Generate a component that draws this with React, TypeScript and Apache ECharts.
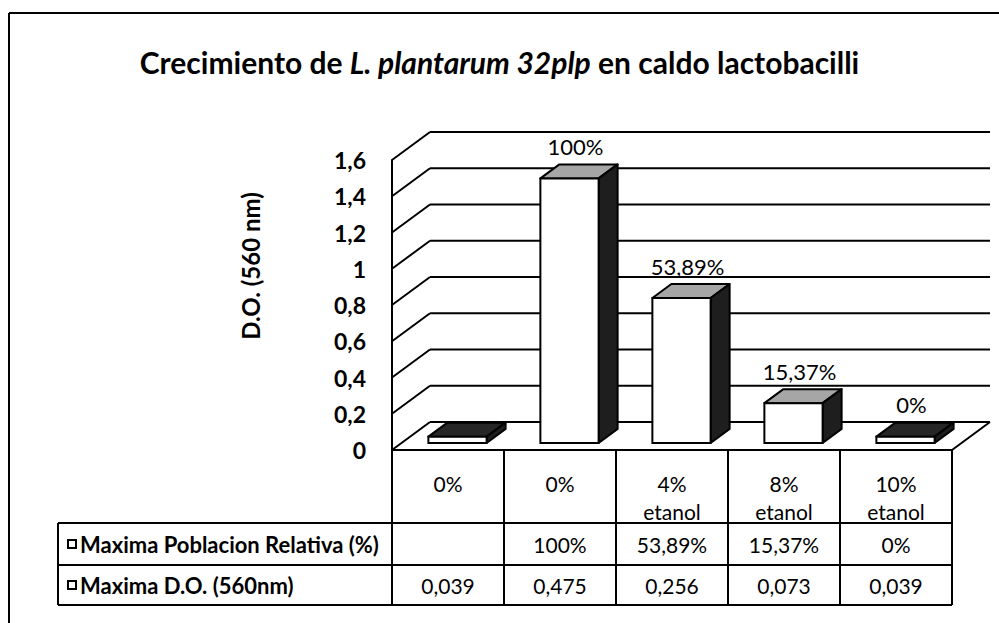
import React, { useEffect, useRef } from "react";
import * as echarts from "echarts";

const categories = ["0%", "0%", "4%\netanol", "8%\netanol", "10%\netanol"];
const barValues = [0.035, 1.46, 0.8, 0.22, 0.035];
const relativeLabels = ["", "100%", "53,89%", "15,37%", "0%"];
const doLabels = ["0,039", "0,475", "0,256", "0,073", "0,039"];
const yTicks = [0, 0.2, 0.4, 0.6, 0.8, 1, 1.2, 1.4, 1.6];
const seriesNames = ["Maxima Poblacion Relativa (%)", "Maxima D.O. (560nm)"];

const FONT = "Lato";
const DEPTH = [38, -28];
const BAR_FRONT = 0.25;
const BAR_DEPTH = [19, -14];
const LINE = "#000";
const TABLE_TOP = 450;
const ROW1 = 523;
const ROW2 = 565;
const ROW3 = 605;
const TABLE_LEFT = 58;

export default function App() {
  const ref = useRef<HTMLDivElement>(null);
  useEffect(() => {
    if (!ref.current) return;
    const chart = echarts.init(ref.current, undefined, { renderer: "svg" });

    const wallsSeries = {
      type: "custom",
      name: "walls",
      z: 1,
      silent: true,
      data: yTicks.map((v) => [0, v]),
      renderItem: (params: any, api: any) => {
        const cs = params.coordSys;
        const v = api.value(1);
        const y = api.coord([0, v])[1];
        const children: any[] = [
          {
            type: "line",
            shape: { x1: cs.x, y1: y, x2: cs.x + DEPTH[0], y2: y + DEPTH[1] },
            style: { stroke: LINE, lineWidth: 2 },
          },
          {
            type: "line",
            shape: {
              x1: cs.x + DEPTH[0],
              y1: y + DEPTH[1],
              x2: cs.x + cs.width + DEPTH[0],
              y2: y + DEPTH[1],
            },
            style: { stroke: LINE, lineWidth: 2 },
          },
        ];
        if (v === 0) {
          children.push({
            type: "line",
            shape: {
              x1: cs.x + cs.width,
              y1: y,
              x2: cs.x + cs.width + DEPTH[0],
              y2: y + DEPTH[1],
            },
            style: { stroke: LINE, lineWidth: 2 },
          });
        }
        return { type: "group", children };
      },
    };

    const barsSeries = {
      type: "custom",
      name: seriesNames[0],
      z: 3,
      data: barValues.map((v, i) => [i, v]),
      renderItem: (params: any, api: any) => {
        const i = api.value(0);
        const v = api.value(1);
        const base = api.coord([i, 0]);
        const top = api.coord([i, v]);
        const bw = api.size([1, 0])[0] * 0.52;
        const fx = DEPTH[0] * BAR_FRONT;
        const fy = DEPTH[1] * BAR_FRONT;
        const x0 = base[0] - bw / 2 + fx;
        const x1 = x0 + bw;
        const yb = base[1] + fy;
        const yt = top[1] + fy;
        const [dx, dy] = BAR_DEPTH;
        const thin = yb - yt < 15;
        const children: any[] = [
          {
            type: "polygon",
            shape: { points: [[x0, yt], [x1, yt], [x1 + dx, yt + dy], [x0 + dx, yt + dy]] },
            style: { fill: thin ? "#262626" : "#a6a6a6", stroke: LINE, lineWidth: 2, lineJoin: "round" },
          },
          {
            type: "polygon",
            shape: { points: [[x1, yt], [x1 + dx, yt + dy], [x1 + dx, yb + dy], [x1, yb]] },
            style: { fill: "#1e1e1e", stroke: LINE, lineWidth: 2, lineJoin: "round" },
          },
          {
            type: "rect",
            shape: { x: x0, y: yt, width: bw, height: yb - yt },
            style: { fill: "#fff", stroke: LINE, lineWidth: 2 },
          },
        ];
        const lbl = relativeLabels[i];
        if (lbl) {
          children.push({
            type: "text",
            style: {
              text: lbl,
              x: x0 + bw / 2 + 6,
              y: yt + dy - 18,
              align: "center",
              verticalAlign: "middle",
              font: `22px ${FONT}`,
              fill: "#000",
            },
          });
        }
        return { type: "group", children };
      },
    };

    const tableSeries = {
      type: "custom",
      name: seriesNames[1],
      z: 4,
      silent: true,
      data: categories.map((c, i) => [i, 0]),
      renderItem: (params: any, api: any) => {
        const i = api.value(0);
        const c = api.coord([i, 0])[0];
        const bw = api.size([1, 0])[0];
        const left = c - bw / 2;
        const right = c + bw / 2;
        const children: any[] = [
          {
            type: "line",
            shape: { x1: left, y1: TABLE_TOP, x2: left, y2: ROW3 },
            style: { stroke: LINE, lineWidth: 2 },
          },
          {
            type: "text",
            style: {
              text: relativeLabels[i],
              x: c,
              y: (ROW1 + ROW2) / 2,
              align: "center",
              verticalAlign: "middle",
              font: `21px ${FONT}`,
              fill: "#000",
            },
          },
          {
            type: "text",
            style: {
              text: doLabels[i],
              x: c,
              y: (ROW2 + ROW3) / 2,
              align: "center",
              verticalAlign: "middle",
              font: `21px ${FONT}`,
              fill: "#000",
            },
          },
        ];
        if (i === categories.length - 1) {
          children.push({
            type: "line",
            shape: { x1: right, y1: TABLE_TOP, x2: right, y2: ROW3 },
            style: { stroke: LINE, lineWidth: 2 },
          });
        }
        return { type: "group", children };
      },
    };

    const hLine = (x1: number, y1: number, x2: number, y2: number) => ({
      type: "line",
      shape: { x1, y1, x2, y2 },
      style: { stroke: LINE, lineWidth: 2 },
      z: 10,
    });

    const option: any = {
      animation: false,
      backgroundColor: "#fff",
      title: {
        text: "{b|Crecimiento de }{i|L. plantarum 32plp}{b| en caldo lactobacilli}",
        left: "center",
        top: 42,
        textStyle: {
          rich: {
            b: { fontFamily: FONT, fontWeight: "bold", fontSize: 30, color: "#000" },
            i: { fontFamily: FONT, fontWeight: "bold", fontStyle: "italic", fontSize: 30, color: "#000" },
          },
        },
      },
      grid: { left: 392, right: 47, top: 160, bottom: 173 },
      xAxis: {
        type: "category",
        data: categories,
        axisLine: { show: true, lineStyle: { color: LINE, width: 2 } },
        axisTick: { show: false },
        axisLabel: {
          margin: 19,
          verticalAlign: "top",
          lineHeight: 28,
          fontFamily: FONT,
          fontSize: 21,
          color: "#000",
          interval: 0,
        },
        splitLine: { show: false },
      },
      yAxis: {
        type: "value",
        min: 0,
        max: 1.6,
        interval: 0.2,
        axisLine: { show: true, lineStyle: { color: LINE, width: 2 } },
        axisTick: { show: false },
        splitLine: { show: false },
        axisLabel: {
          margin: 26,
          fontFamily: FONT,
          fontWeight: "bold",
          fontSize: 23,
          color: "#000",
          formatter: (v: number) => String(Math.round(v * 10) / 10).replace(".", ","),
        },
      },
      graphic: [
        hLine(9, 13, 999, 13),
        hLine(9, 13, 9, 623),
        hLine(TABLE_LEFT, ROW1, 952, ROW1),
        hLine(TABLE_LEFT, ROW2, 952, ROW2),
        hLine(TABLE_LEFT, ROW3, 952, ROW3),
        hLine(TABLE_LEFT, ROW1, TABLE_LEFT, ROW3),
        {
          type: "rect",
          shape: { x: 68, y: (ROW1 + ROW2) / 2 - 4, width: 8, height: 8 },
          style: { fill: "#fff", stroke: LINE, lineWidth: 2 },
          z: 10,
        },
        {
          type: "rect",
          shape: { x: 68, y: (ROW2 + ROW3) / 2 - 4, width: 8, height: 8 },
          style: { fill: "#fff", stroke: LINE, lineWidth: 2 },
          z: 10,
        },
        {
          type: "text",
          style: {
            text: seriesNames[0],
            x: 80,
            y: (ROW1 + ROW2) / 2,
            verticalAlign: "middle",
            font: `bold 22px ${FONT}`,
            fill: "#000",
          },
          z: 10,
        },
        {
          type: "text",
          style: {
            text: seriesNames[1],
            x: 80,
            y: (ROW2 + ROW3) / 2,
            verticalAlign: "middle",
            font: `bold 22px ${FONT}`,
            fill: "#000",
          },
          z: 10,
        },
        {
          type: "text",
          x: 250,
          y: 266,
          rotation: Math.PI / 2,
          style: {
            text: "D.O. (560 nm)",
            align: "center",
            verticalAlign: "middle",
            font: `bold 24px ${FONT}`,
            fill: "#000",
          },
          z: 10,
        },
      ],
      series: [wallsSeries, barsSeries, tableSeries],
    };
    chart.setOption(option);
    return () => chart.dispose();
  }, []);
  return (
    <div
      ref={ref}
      style={{ position: "fixed", left: 0, top: 0, width: 999, height: 623 }}
    />
  );
}
